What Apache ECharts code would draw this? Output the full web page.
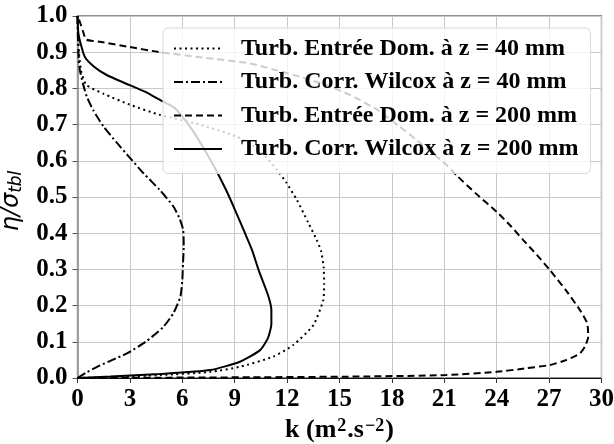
<!DOCTYPE html>
<html><head><meta charset="utf-8">
<script src="https://cdn.jsdelivr.net/npm/echarts@6/dist/echarts.min.js"></script>
<style>html,body{margin:0;padding:0;background:#fff}#c{width:614px;height:444px}</style>
</head><body><div id="c"></div>
<script>
const seriesNames = [
  'Turb. Entrée Dom. à z = 40 mm',
  'Turb. Corr. Wilcox à z = 40 mm',
  'Turb. Entrée Dom. à z = 200 mm',
  'Turb. Corr. Wilcox à z = 200 mm'
];
// Entrée Dom. z = 40 mm (dotted)
const etaEntree40 = [0, 0.004, 0.008, 0.017, 0.031, 0.059, 0.091, 0.146, 0.215, 0.26, 0.307, 0.35, 0.381, 0.43, 0.492, 0.54, 0.575, 0.61, 0.64, 0.667, 0.7, 0.727, 0.755, 0.785, 0.81, 0.85, 0.9, 0.95, 1.0];
const kEntree40   = [0, 2.5, 4.7, 7.6, 9.3, 11.2, 12.35, 13.5, 14.07, 14.12, 14.09, 13.95, 13.7, 13.2, 12.56, 11.95, 11.42, 10.8, 10.1, 9.1, 7.0, 4.7, 3.0, 1.5, 0.5, 0.2, 0.08, 0.03, 0];
// Corr. Wilcox z = 40 mm (dash-dot)
const etaWilcox40 = [0, 0.015, 0.031, 0.05, 0.068, 0.1, 0.142, 0.18, 0.225, 0.27, 0.317, 0.36, 0.409, 0.44, 0.473, 0.52, 0.565, 0.611, 0.65, 0.694, 0.74, 0.776, 0.81, 0.86, 0.93, 1.0];
const kWilcox40   = [0, 0.5, 1.12, 2.0, 2.83, 3.9, 4.93, 5.5, 5.89, 6.0, 6.04, 6.08, 6.05, 5.85, 5.5, 4.7, 3.79, 2.95, 2.25, 1.5, 0.9, 0.54, 0.33, 0.1, 0.03, 0];
// Entrée Dom. z = 200 mm (dashed)
const etaEntree200 = [0, 0.002, 0.004, 0.008, 0.017, 0.027, 0.036, 0.05, 0.068, 0.087, 0.114, 0.151, 0.188, 0.24, 0.298, 0.34, 0.381, 0.42, 0.459, 0.51, 0.56, 0.59, 0.62, 0.66, 0.694, 0.74, 0.782, 0.81, 0.832, 0.85, 0.869, 0.885, 0.901, 0.915, 0.929, 0.935, 0.96, 0.989, 1.0];
const kEntree200   = [0, 10, 16, 21.1, 24, 25.7, 27.05, 28.0, 28.76, 29.05, 29.24, 29.18, 28.76, 28.0, 27.05, 26.3, 25.52, 24.8, 24.0, 22.8, 21.7, 21.1, 20.35, 19.35, 18.46, 17.2, 15.6, 14.2, 12.74, 11.4, 9.87, 7.2, 4.6, 2.9, 1.29, 0.5, 0.3, 0.1, 0];
// Corr. Wilcox z = 200 mm (solid)
const etaWilcox200 = [0, 0.004, 0.011, 0.022, 0.045, 0.077, 0.11, 0.15, 0.188, 0.23, 0.298, 0.354, 0.409, 0.473, 0.52, 0.57, 0.62, 0.68, 0.745, 0.768, 0.791, 0.815, 0.837, 0.86, 0.886, 0.92, 0.953, 1.0];
const kWilcox200   = [0, 1.9, 4.7, 7.6, 9.3, 10.45, 10.9, 11.1, 11.1, 10.9, 10.37, 9.99, 9.51, 8.94, 8.5, 7.98, 7.4, 6.65, 5.58, 4.72, 3.86, 2.7, 1.67, 0.95, 0.43, 0.2, 0.05, 0];

const xTicks = {min: 0, max: 30, interval: 3};
const yTicks = {min: 0, max: 1, interval: 0.1};

function zip(k, eta) { return k.map((v, i) => [v, eta[i]]); }

const lineTypes = [[2, 3.5], [9, 3, 2, 3], [7, 4], 'solid'];
const datasets = [zip(kEntree40, etaEntree40), zip(kWilcox40, etaWilcox40), zip(kEntree200, etaEntree200), zip(kWilcox200, etaWilcox200)];

const serif = 'Liberation Serif';
const chart = echarts.init(document.getElementById('c'), null, {renderer: 'canvas'});
chart.setOption({
  animation: false,
  backgroundColor: '#fff',
  grid: {left: 77.5, right: 12.5, top: 16, bottom: 66, containLabel: false, outerBoundsMode: 'none', show: true, borderColor: '#222', borderWidth: 1.2, backgroundColor: 'transparent'},
  legend: {
    z: 100,
    orient: 'vertical', left: 163, top: 28,
    itemWidth: 48, itemHeight: 14, itemGap: 8.5,
    padding: [8, 12, 12, 10],
    itemStyle: {opacity: 0, borderWidth: 0},
    backgroundColor: 'rgba(255,255,255,0.8)', borderColor: '#d8d8d8', borderWidth: 1, borderRadius: 5,
    textStyle: {fontFamily: serif, fontWeight: 'bold', fontSize: 24, color: '#000', lineHeight: 25, padding: [0, 0, 0, 14]},
    data: seriesNames
  },
  xAxis: {
    type: 'value', min: xTicks.min, max: xTicks.max, interval: xTicks.interval,
    name: '{a|k (m}{s|2}{a|.s}{s|−2}{a|)}', nameLocation: 'middle', nameGap: 35,
    nameTextStyle: {rich: {a: {fontFamily: serif, fontWeight: 'bold', fontSize: 26, color: '#000', verticalAlign: 'bottom'}, s: {fontFamily: serif, fontWeight: 'bold', fontSize: 18, color: '#000', verticalAlign: 'top', padding: [0, 1, 0, 1]}}},
    axisLine: {lineStyle: {color: '#111', width: 1.2}},
    axisTick: {show: true, length: 5, lineStyle: {color: '#333'}},
    axisLabel: {fontFamily: serif, fontWeight: 'bold', fontSize: 25, color: '#000', margin: 9},
    splitLine: {show: true, lineStyle: {color: '#c8c8c8', width: 1}}
  },
  yAxis: {
    type: 'value', min: yTicks.min, max: yTicks.max, interval: yTicks.interval,
    name: '{i|η/σ}{b|tbl}', nameLocation: 'middle', nameGap: 43, nameRotate: 90,
    nameTextStyle: {padding: [0, 8, 0, 0], rich: {i: {fontFamily: 'DejaVu Sans', fontStyle: 'italic', fontSize: 24, color: '#000', verticalAlign: 'top'}, b: {fontFamily: 'DejaVu Sans', fontStyle: 'italic', fontSize: 17, color: '#000', verticalAlign: 'bottom', padding: [9, 0, 0, 0]}}},
    axisLine: {show: true, lineStyle: {color: '#888', width: 1.5}},
    axisTick: {show: true, length: 5, lineStyle: {color: '#555'}},
    axisLabel: {fontFamily: serif, fontWeight: 'bold', fontSize: 25, color: '#000', margin: 10, formatter: v => v.toFixed(1)},
    splitLine: {show: true, lineStyle: {color: '#c8c8c8', width: 1}}
  },
  series: datasets.map((d, i) => ({
    name: seriesNames[i], type: 'line', data: d, symbol: 'none', showSymbol: false, smooth: 0.2,
    z: 2,
    lineStyle: {color: '#000', width: 2, type: lineTypes[i]},
    itemStyle: {color: '#000'}
  }))
});
</script></body></html>
